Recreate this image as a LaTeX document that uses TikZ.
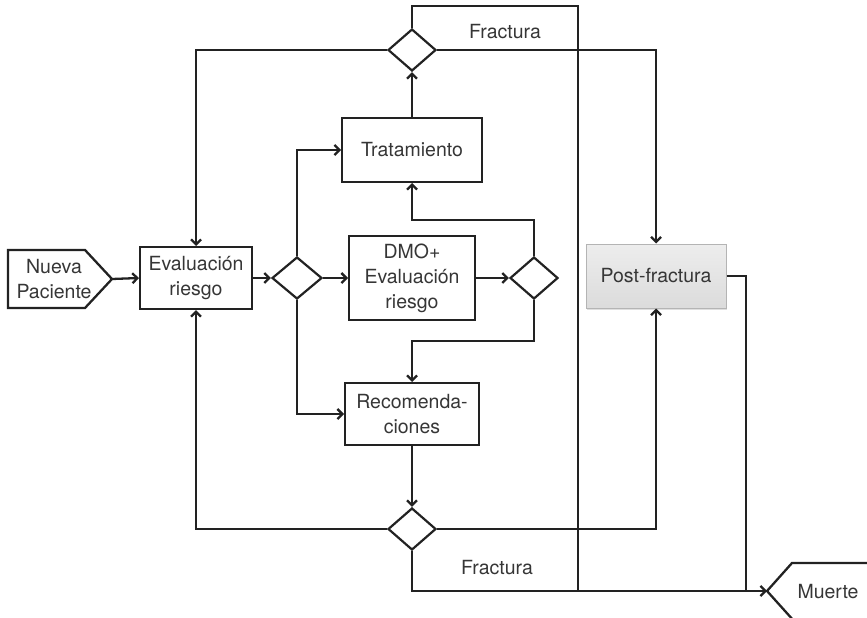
\documentclass[tikz,border=0pt]{standalone}
\usepackage{fontspec}
\setmainfont{TeX Gyre Heros}
\usetikzlibrary{arrows.meta,shapes.geometric,shadows}
\definecolor{ink}{HTML}{222222}
\definecolor{txt}{HTML}{363636}
\definecolor{postborder}{HTML}{B4B4B4}

\begin{document}
\begin{tikzpicture}[x=1pt,y=-1pt,
  line width=2pt, color=ink,
  lbl/.style={text=txt, font=\fontsize{19.5}{25}\selectfont, align=center, inner sep=0pt},
  box/.style={lbl, draw=ink, rectangle},
  dec/.style={draw=ink, diamond, inner sep=0pt, line width=2.2pt},
  wire/.style={draw=ink, line width=2.3pt},
  arr/.style={wire, -{Straight Barb[length=5pt,width=10pt]}},
  postbox/.style={lbl, rectangle, draw=postborder, line width=1pt,
    top color=black!7, bottom color=black!14,
    drop shadow={opacity=0.25, shadow xshift=1pt, shadow yshift=-2pt}},
  ]
\useasboundingbox (0,0) rectangle (867,618);
\clip (0,0) rectangle (867,618);

% start and end terminals
\draw[wire, line join=miter] (8,250) -- (85,250) -- (112,279) -- (85,308) -- (8,308) -- cycle;
\coordinate (nptip) at (112,279);
\node[lbl] (np) at (54,279) {Nueva\\Paciente};

\draw[wire] (867,563) -- (792,563) -- (767,591) -- (794,621);
\coordinate (muertetip) at (767,591);
\node[lbl] (muerte) at (828,592) {Muerte};

% process boxes
\node[box, minimum width=112, minimum height=62] (eval) at (196,278) {Evaluación\\riesgo};
\node[box, minimum width=140, minimum height=64] (trat) at (412,150) {Tratamiento};
\node[box, minimum width=126, minimum height=84] (dmo) at (412,278) {DMO+\\Evaluación\\riesgo};
\node[box, minimum width=134, minimum height=62] (rec) at (412,414) {Recomenda-\\ciones};
\node[postbox, minimum width=140, minimum height=64] (post) at (656,276) {Post-fractura};

% decisions
\node[dec, minimum width=50, minimum height=42] (d1) at (297,278) {};
\node[dec, minimum width=48, minimum height=42] (d2) at (534,278) {};
\node[dec, minimum width=48, minimum height=42] (dtop) at (412,50) {};
\node[dec, minimum width=48, minimum height=42] (dbot) at (412,529) {};

% labels on the fracture branches
\node[lbl] (ftop) at (505,32) {Fractura};
\node[lbl] (fbot) at (497,568) {Fractura};

% bends
\coordinate (k1) at (534,220);
\coordinate (k2) at (534,341);
\coordinate (jtop) at (578,6);
\coordinate (jbot) at (578,591);
\coordinate (jpost) at (746,591);

% connectors
\draw[arr] (nptip) -- (eval.west);
\draw[arr] (eval.east) -- (d1.west);
\draw[arr] (d1.north) |- (trat.west);
\draw[arr] (d1.east) -- (dmo.west);
\draw[arr] (d1.south) |- (rec.west);
\draw[arr] (dmo.east) -- (d2.west);
\draw[arr] (d2.north) -- (k1) -| (trat.south);
\draw[arr] (d2.south) -- (k2) -| (rec.north);
\draw[arr] (trat.north) -- (dtop.south);
\draw[arr] (rec.south) -- (dbot.north);

\draw[arr] (dtop.west) -| (eval.north);
\draw[arr] (dbot.west) -| (eval.south);
\draw[arr] (dtop.east) -| (post.north);
\draw[arr] (dbot.east) -| (post.south);

\draw[wire] (dtop.north) |- (jtop) -- (jbot);
\draw[arr] (dbot.south) |- (muertetip);
\draw[wire] (post.east) -| (jpost);
\end{tikzpicture}
\end{document}
